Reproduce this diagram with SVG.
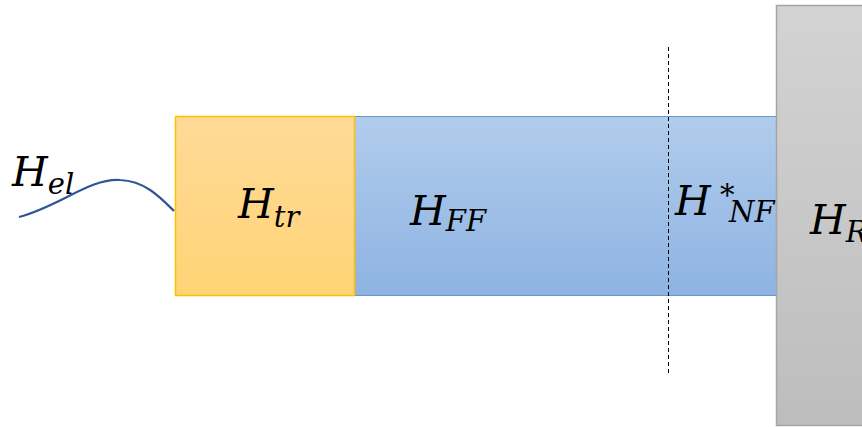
<svg xmlns="http://www.w3.org/2000/svg" width="862" height="427" viewBox="0 0 862 427">
<style>
.m{font-family:"DejaVu Serif","Liberation Serif",serif;font-style:italic;fill:#000}
.b{font-size:41px}
.s{font-size:29px}
</style>
<defs>
<linearGradient id="go" x1="0" y1="0" x2="0" y2="1"><stop offset="0" stop-color="#FFDA98"/><stop offset="1" stop-color="#FFD475"/></linearGradient>
<linearGradient id="gb" x1="0" y1="0" x2="0" y2="1"><stop offset="0" stop-color="#B1CCEC"/><stop offset="1" stop-color="#8EB3E2"/></linearGradient>
<linearGradient id="gg" x1="0" y1="0" x2="0" y2="1"><stop offset="0" stop-color="#D3D3D3"/><stop offset="1" stop-color="#BDBDBD"/></linearGradient>
</defs>
<rect width="862" height="427" fill="#fff"/>
<g id="ff">
<rect x="354.5" y="116.5" width="423" height="179" fill="url(#gb)" stroke="#5B9BD5" stroke-width="1"/>
<text class="m b" x="410" y="225">H<tspan class="s" dy="6">FF</tspan></text>
</g>
<g id="tr">
<rect x="175.5" y="116.5" width="179" height="179" fill="url(#go)" stroke="#FFC000" stroke-width="1.5"/>
<text class="m b" x="238" y="218">H<tspan class="s" dy="9">tr</tspan></text>
</g>
<g id="nf">
<text class="m b" x="675" y="215">H<tspan class="s" x="720" y="205">*</tspan><tspan class="s" x="729" y="222">NF</tspan></text>
</g>
<g id="r">
<rect x="776.5" y="5.5" width="90" height="420" fill="url(#gg)" stroke="#A5A5A5" stroke-width="1.5"/>
<text class="m b" x="810" y="234">H<tspan class="s" dy="8">R</tspan></text>
</g>
<g id="el">
<text class="m b" x="12" y="186">H<tspan class="s" dy="8">el</tspan></text>
</g>
<g id="connectors">
<path d="M19,217 C60,206 90,178 120,180 C145,181 160,197 174,211" fill="none" stroke="#2F5597" stroke-width="2.2"/>
<line x1="668.5" y1="47" x2="668.5" y2="376" stroke="#000" stroke-width="1" stroke-dasharray="4,3"/>
</g>
</svg>
